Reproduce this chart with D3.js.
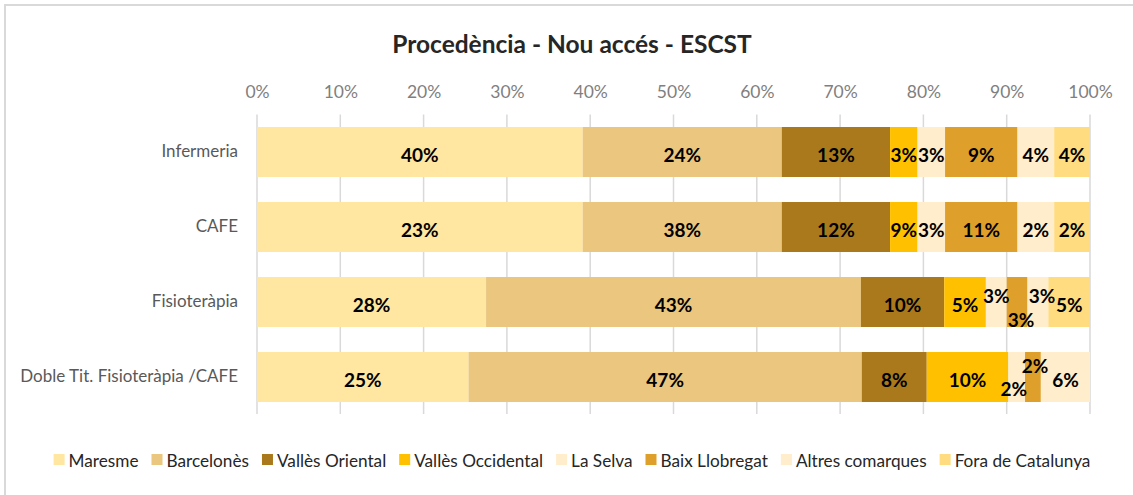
<!DOCTYPE html>
<html>
<head>
<meta charset="utf-8">
<script src="https://cdn.jsdelivr.net/npm/d3@7"></script>
<style>
  body { margin: 0; background: #fff; }
  svg { display: block; font-family: Lato, "Open Sans", sans-serif; }
</style>
</head>
<body>
<svg id="chart" width="1133" height="495"></svg>
<script>
const categories = ["Infermeria", "CAFE", "Fisioteràpia", "Doble Tit. Fisioteràpia /CAFE"];
const series = ["Maresme", "Barcelonès", "Vallès Oriental", "Vallès Occidental", "La Selva", "Baix Llobregat", "Altres comarques", "Fora de Catalunya"];
const colors = ["#FFE6A1", "#EAC67E", "#A9791C", "#FFC000", "#FFEDCB", "#DEA02A", "#FFEDCB", "#FFDC80"];

// segment widths as drawn (share of each bar)
const infermeria = [39.1, 23.9, 13.0, 3.3, 3.3, 8.7, 4.4, 4.3];
const cafe = [39.1, 23.9, 13.0, 3.3, 3.3, 8.7, 4.4, 4.3];
const fisioterapia = [27.5, 45.0, 10.0, 5.0, 2.5, 2.5, 2.5, 5.0];
const dobleTit = [25.4, 47.2, 7.8, 9.8, 2.0, 1.9, 5.9, 0];

// data labels as printed on the bars
const labelsInfermeria = ["40%", "24%", "13%", "3%", "3%", "9%", "4%", "4%"];
const labelsCafe = ["23%", "38%", "12%", "9%", "3%", "11%", "2%", "2%"];
const labelsFisioterapia = ["28%", "43%", "10%", "5%", "3%", "3%", "3%", "5%"];
const labelsDobleTit = ["25%", "47%", "8%", "10%", "2%", "2%", "6%", ""];

const xTicks = [0, 0.1, 0.2, 0.3, 0.4, 0.5, 0.6, 0.7, 0.8, 0.9, 1];

const rows = [infermeria, cafe, fisioterapia, dobleTit];
const labelRows = [labelsInfermeria, labelsCafe, labelsFisioterapia, labelsDobleTit];

const table = categories.map((c, i) => {
  const o = { category: c };
  series.forEach((s, j) => { o[s] = rows[i][j]; o["lbl_" + s] = labelRows[i][j]; });
  return o;
});

// labels that were nudged by hand in the original
const nudge = {
  "Fisioteràpia|La Selva": [0, -9],
  "Fisioteràpia|Baix Llobregat": [4, 15],
  "Fisioteràpia|Altres comarques": [4, -9],
  "Doble Tit. Fisioteràpia /CAFE|La Selva": [-3, 9],
  "Doble Tit. Fisioteràpia /CAFE|Baix Llobregat": [2, -14]
};

const svg = d3.select("#chart");
const centerX = 572;

svg.append("rect")
  .attr("x", 5).attr("y", 5)
  .attr("width", 1200).attr("height", 600)
  .attr("fill", "#fff")
  .attr("stroke", "#D9D9D9").attr("stroke-width", 2);

svg.append("text")
  .attr("x", centerX).attr("y", 53)
  .attr("text-anchor", "middle")
  .attr("font-size", 24.5).attr("font-weight", 700)
  .attr("fill", "#262626")
  .text("Procedència - Nou accés - ESCST");

const x = d3.scaleLinear().domain([0, 1]).range([257, 1090]);
const y = d3.scaleBand().domain(categories).range([114.5, 414.5])
  .paddingInner(1 / 3).paddingOuter(1 / 6);

const stack = d3.stack().keys(series).offset(d3.stackOffsetExpand);
const stacked = stack(table);

// gridlines
svg.append("g")
  .selectAll("line")
  .data(xTicks)
  .join("line")
  .attr("x1", d => x(d)).attr("x2", d => x(d))
  .attr("y1", 114.5).attr("y2", 414)
  .attr("stroke", "#D9D9D9").attr("stroke-width", 1.5);

// top axis labels
const xAxis = svg.append("g")
  .attr("transform", "translate(0,101)")
  .call(d3.axisTop(x).tickValues(xTicks).tickFormat(d3.format(".0%")).tickSize(0).tickPadding(0));
xAxis.select(".domain").remove();
xAxis.selectAll("text")
  .attr("font-size", 17.5).attr("fill", "#7F7F7F").attr("font-family", "Lato, sans-serif")
  .attr("dy", "-0.2em");

// category axis
const yAxis = svg.append("g")
  .attr("transform", "translate(257,0)")
  .call(d3.axisLeft(y).tickSize(0).tickPadding(19));
yAxis.select(".domain").remove();
yAxis.selectAll("text")
  .attr("font-size", 17).attr("fill", "#595959").attr("font-family", "Lato, sans-serif");

// bars
const layers = svg.append("g")
  .selectAll("g")
  .data(stacked)
  .join("g")
  .attr("fill", (d, i) => colors[i]);

layers.selectAll("rect")
  .data(d => d)
  .join("rect")
  .attr("x", d => x(d[0]))
  .attr("y", d => y(d.data.category))
  .attr("width", d => x(d[1]) - x(d[0]))
  .attr("height", y.bandwidth());

// data labels
const labelG = svg.append("g")
  .attr("font-size", 19).attr("font-weight", 700).attr("fill", "#000")
  .attr("text-anchor", "middle");

stacked.forEach(layer => {
  layer.forEach(d => {
    const txt = d.data["lbl_" + layer.key];
    if (!txt) return;
    const n = nudge[d.data.category + "|" + layer.key] || [0, 0];
    labelG.append("text")
      .attr("x", (x(d[0]) + x(d[1])) / 2 + n[0])
      .attr("y", y(d.data.category) + y.bandwidth() / 2 + 2 + n[1])
      .attr("dominant-baseline", "central")
      .text(txt);
  });
});

// legend
const legend = svg.append("g").attr("font-size", 17.2).attr("fill", "#262626");
const items = legend.selectAll("g").data(series).join("g");
items.append("rect")
  .attr("width", 11).attr("height", 11)
  .attr("y", -6)
  .attr("fill", (d, i) => colors[i]);
items.append("text")
  .attr("x", 15)
  .attr("dominant-baseline", "central")
  .text(d => d);

let cursor = 0;
items.each(function () {
  const w = d3.select(this).select("text").node().getComputedTextLength();
  d3.select(this).attr("transform", `translate(${cursor},0)`);
  cursor += 15 + w + 13;
});
const totalW = cursor - 13;
legend.attr("transform", `translate(${centerX - totalW / 2},460)`);
</script>
</body>
</html>
